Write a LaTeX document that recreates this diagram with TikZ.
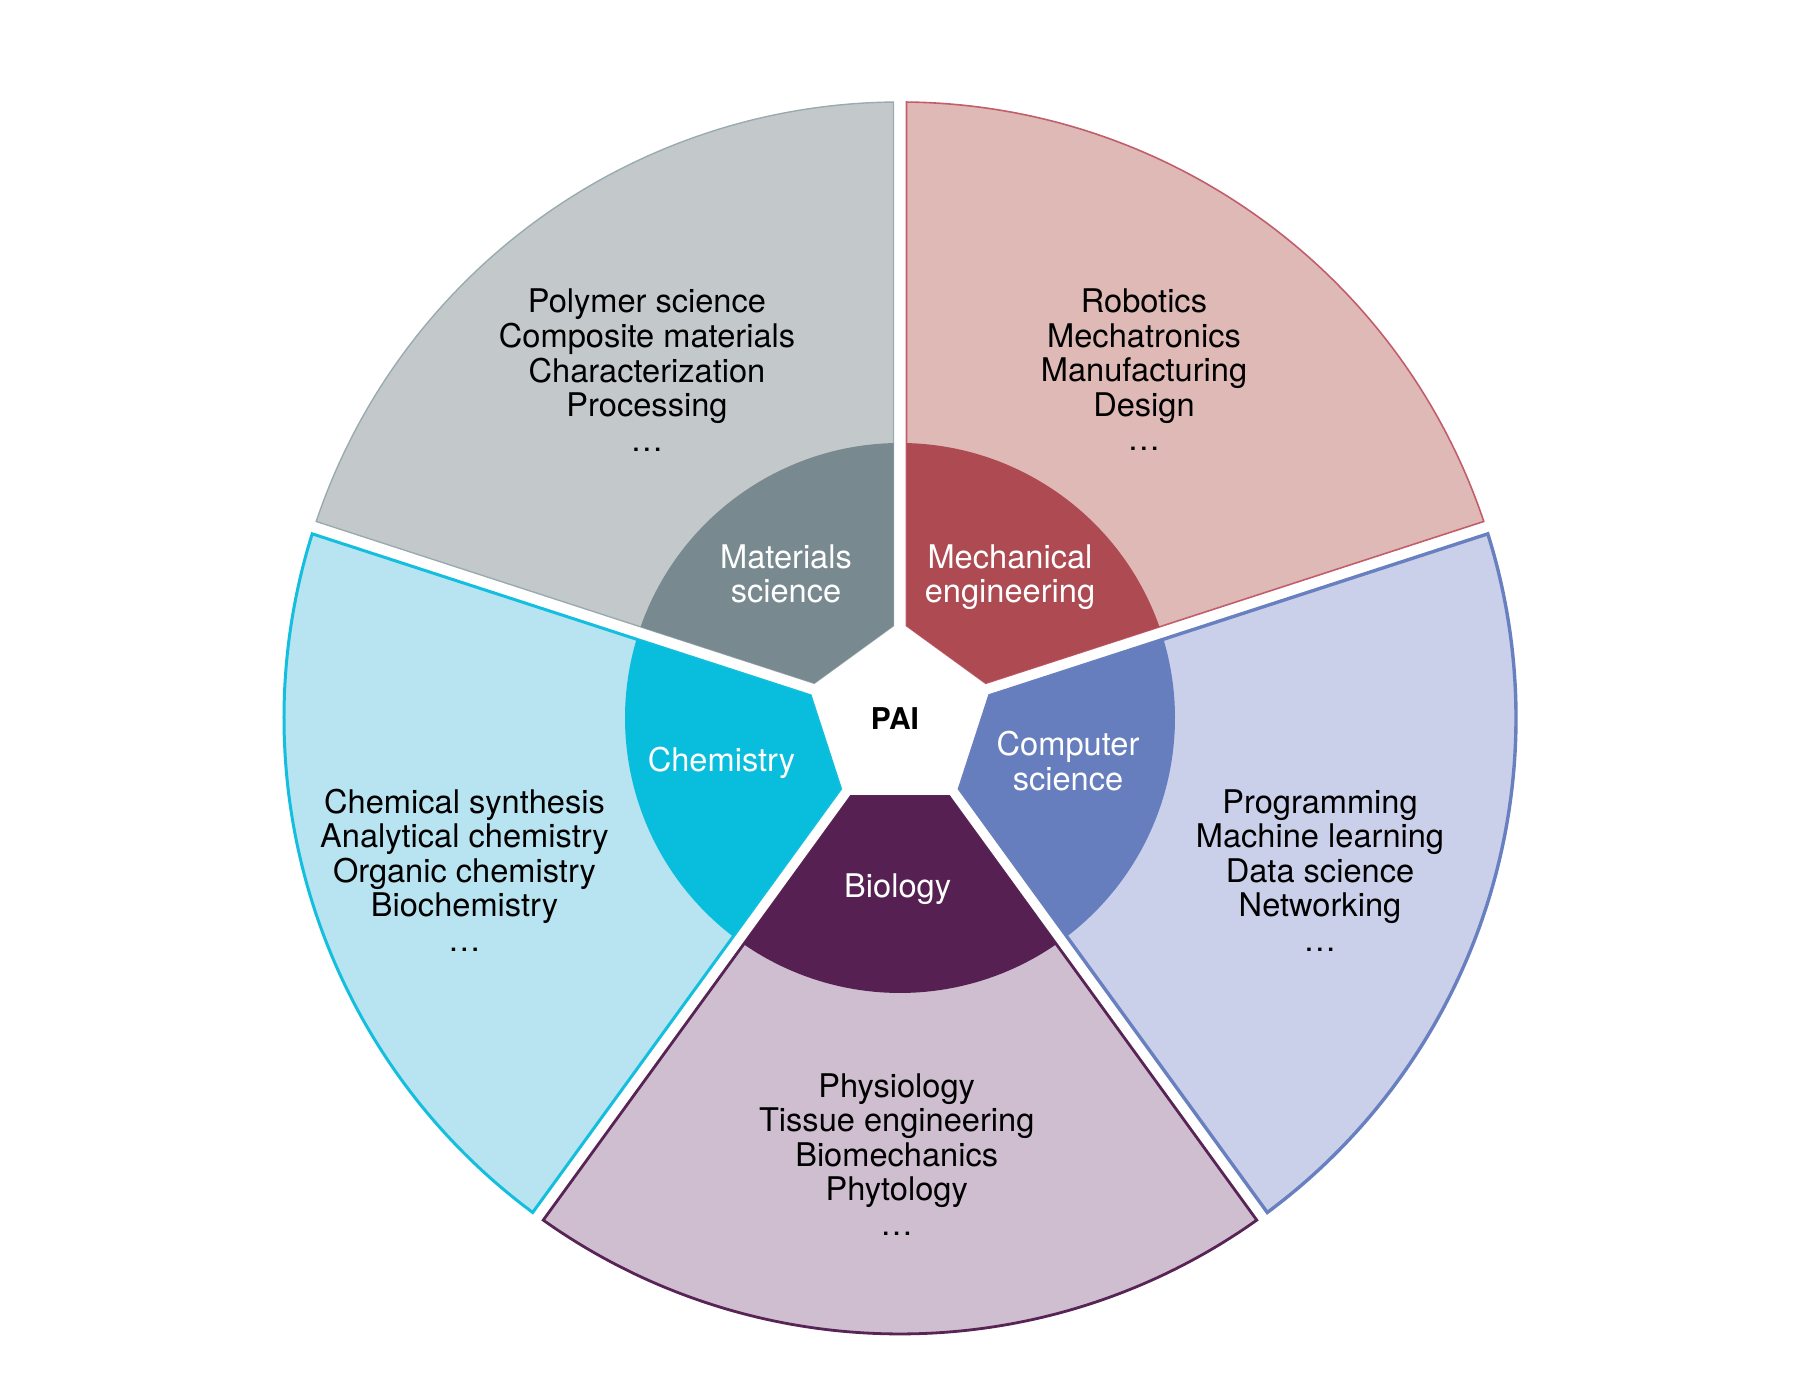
\documentclass[tikz,border=0pt]{standalone}
\usepackage{fontspec}
\setmainfont{TeX Gyre Heros}
\definecolor{matL}{HTML}{C3C9CB}
\definecolor{matS}{HTML}{9AABB0}
\definecolor{matD}{HTML}{788A8F}
\definecolor{mecL}{HTML}{DFB9B5}
\definecolor{mecS}{HTML}{C25E6C}
\definecolor{mecD}{HTML}{AD4A52}
\definecolor{chemL}{HTML}{B8E3F0}
\definecolor{chemS}{HTML}{14BEDE}
\definecolor{chemD}{HTML}{09BEDD}
\definecolor{csL}{HTML}{CBD0EA}
\definecolor{csS}{HTML}{6980C0}
\definecolor{csD}{HTML}{667EBE}
\definecolor{bioL}{HTML}{CEBED0}
\definecolor{bioS}{HTML}{582355}
\definecolor{bioD}{HTML}{562052}
\begin{document}
\begin{tikzpicture}[x=0.25pt,y=0.25pt,
  listtext/.style={anchor=base,inner sep=0pt,text=black,font=\fontsize{8.15}{8.625}\selectfont},
  fieldtext/.style={anchor=base,inner sep=0pt,text=white,font=\fontsize{8.15}{8.625}\selectfont},
  hubtext/.style={anchor=base,inner sep=0pt,text=black,font=\fontsize{7.5}{8.6}\selectfont\bfseries},
  lightsector/.style={line join=miter},
  darksector/.style={}
]
\useasboundingbox (0,0) rectangle (1800,1390);
\begin{scope}[shift={(900,672)}]
  % outer light sectors
  \foreach \c/\fl/\st/\w in {126/matL/matS/0.35, 54/mecL/mecS/0.4, 198/chemL/chemS/0.75, -18/csL/csS/0.85, 270/bioL/bioS/0.7}{
    \filldraw[lightsector, fill=\fl, draw=\st, line width=\w pt]
      ({\c-31.97}:92.5) -- ({\c-35.395}:616)
      arc[start angle=\c-35.395, end angle=\c+35.395, radius=154pt]
      -- ({\c+31.97}:92.5) -- cycle;
  }
  % inner dark sectors
  \foreach \c/\dk in {126/matD, 54/mecD, 198/chemD, -18/csD, 270/bioD}{
    \fill[darksector, fill=\dk]
      ({\c-31.97}:92.5) -- ({\c-34.646}:275)
      arc[start angle=\c-34.646, end angle=\c+34.646, radius=68.75pt]
      -- ({\c+31.97}:92.5) -- cycle;
  }
\end{scope}
% hub
\node[hubtext] (pai) at (895,660.9) {PAI};
% field labels
\node[fieldtext] (mat) at (786,821.6) {\begin{tabular}[t]{@{}c@{}}Materials\\science\end{tabular}};
\node[fieldtext] (mec) at (1010,821.6) {\begin{tabular}[t]{@{}c@{}}Mechanical\\engineering\end{tabular}};
\node[fieldtext] (chem) at (721.5,618.8) {Chemistry};
\node[fieldtext] (cs) at (1068,634.1) {\begin{tabular}[t]{@{}c@{}}Computer\\science\end{tabular}};
\node[fieldtext] (bio) at (897.6,492.5) {Biology};
% topic lists
\node[listtext] (matlist) at (647,1077.3) {\begin{tabular}[t]{@{}c@{}}Polymer science\\Composite materials\\Characterization\\Processing\\…\end{tabular}};
\node[listtext] (meclist) at (1144,1077.3) {\begin{tabular}[t]{@{}c@{}}Robotics\\Mechatronics\\Manufacturing\\Design\\…\end{tabular}};
\node[listtext] (chemlist) at (464.5,576.7) {\begin{tabular}[t]{@{}c@{}}Chemical synthesis\\Analytical chemistry\\Organic chemistry\\Biochemistry\\…\end{tabular}};
\node[listtext] (cslist) at (1320,576.7) {\begin{tabular}[t]{@{}c@{}}Programming\\Machine learning\\Data science\\Networking\\…\end{tabular}};
\node[listtext] (biolist) at (896.7,292.7) {\begin{tabular}[t]{@{}c@{}}Physiology\\Tissue engineering\\Biomechanics\\Phytology\\…\end{tabular}};
\end{tikzpicture}
\end{document}
